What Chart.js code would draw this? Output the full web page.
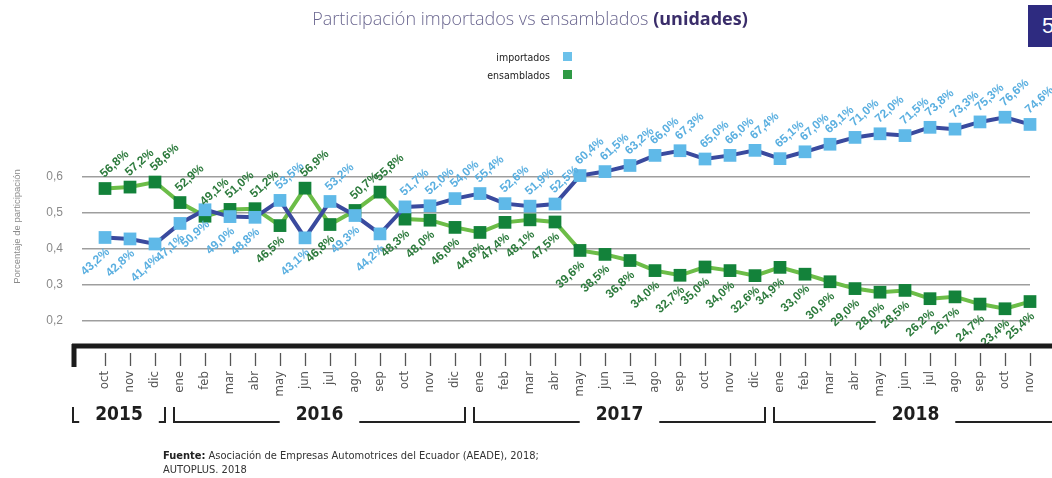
<!DOCTYPE html>
<html>
<head>
<meta charset="utf-8">
<script src="https://cdn.jsdelivr.net/npm/chart.js@4/dist/chart.umd.min.js"></script>
<style>
  html, body { margin: 0; padding: 0; background: #fff; overflow: hidden; }
  body { width: 1052px; height: 478px; position: relative; }
  #chart { position: absolute; left: 0; top: 0; }
  .narrow { font-family: "Liberation Sans Narrow", "DejaVu Sans Condensed", Arial, sans-serif; }
  #title {
    position: absolute; left: 530px; top: 6px; transform: translateX(-50%);
    white-space: nowrap; font-family: "Open Sans", "Liberation Sans", sans-serif;
    font-size: 18px; color: #6b6790; font-weight: 300;
  }
  #title b { color: #3a2d6a; font-weight: 700; }
  .legText { position: absolute; right: 502px; font-size: 10.5px; color: #222; line-height: 14px; }
  .legBox { position: absolute; left: 563px; width: 9px; height: 9px; }
  #page { position: absolute; left: 1028px; top: 5px; width: 40px; height: 42px; background: #2e2b80;
    color: #fff; font: 22px "Liberation Sans", sans-serif; line-height: 42px; padding-left: 14px; box-sizing: border-box; }
  #source { position: absolute; left: 163px; top: 449px; font-size: 11px; color: #333; line-height: 14px; }
  #source b { color: #222; }
</style>
</head>
<body>
<canvas id="chart" width="1052" height="478"></canvas>
<div id="title">Participación importados vs ensamblados <b>(unidades)</b></div>
<div class="legText narrow" style="top:50px">importados</div>
<div class="legBox" style="top:52px;background:#6cc1ea"></div>
<div class="legText narrow" style="top:68px">ensamblados</div>
<div class="legBox" style="top:70px;background:#2f9a45"></div>
<div id="page">5</div>
<div id="source" class="narrow"><b>Fuente:</b> Asociación de Empresas Automotrices del Ecuador (AEADE), 2018;<br>AUTOPLUS. 2018</div>
<script>
// months oct 2015 - nov 2018
var months = ["oct","nov","dic",
	"ene","feb","mar","abr","may","jun","jul","ago","sep","oct","nov","dic",
	"ene","feb","mar","abr","may","jun","jul","ago","sep","oct","nov","dic",
	"ene","feb","mar","abr","may","jun","jul","ago","sep","oct","nov"];
var yearLabels = ["2015", "2016", "2017", "2018"];
var yearMonths = [3, 12, 12, 11];

// participation in %
var importados = [43.2,42.8,41.4,
	47.1,50.9,49.0,48.8,53.5,43.1,53.2,49.3,44.2,51.7,52.0,54.0,
	55.4,52.6,51.9,52.5,60.4,61.5,63.2,66.0,67.3,65.0,66.0,67.4,
	65.1,67.0,69.1,71.0,72.0,71.5,73.8,73.3,75.3,76.6,74.6];
var ensamblados = [56.8,57.2,58.6,
	52.9,49.1,51.0,51.2,46.5,56.9,46.8,50.7,55.8,48.3,48.0,46.0,
	44.6,47.4,48.1,47.5,39.6,38.5,36.8,34.0,32.7,35.0,34.0,32.6,
	34.9,33.0,30.9,29.0,28.0,28.5,26.2,26.7,24.7,23.4,25.4];

var yTicks = [0.2, 0.3, 0.4, 0.5, 0.6];

var NARROW = '"Liberation Sans Narrow", "DejaVu Sans Condensed", Arial, sans-serif';
var LABEL_ANGLE = 42 * Math.PI / 180;

function fmtPct(v){
	return v.toFixed(1).replace(".", ",") + "%";
}

//draws the % values next to each point
var pointLabels = {
	id: "pointLabels",
	afterDatasetsDraw: function(chart){
		var ctx = chart.ctx;
		chart.data.datasets.forEach(function(ds, di){
			var meta = chart.getDatasetMeta(di);
			meta.data.forEach(function(pt, i){
				var above = (di === 0) ? importados[i] > 51 : importados[i] <= 51;
				ctx.save();
				ctx.font = "bold 12px 'Liberation Sans', Arial, sans-serif";
				ctx.fillStyle = ds.labelColor;
				ctx.textBaseline = "middle";
				if(above){
					ctx.translate(pt.x - 3, pt.y - 13);
					ctx.rotate(-LABEL_ANGLE);
					ctx.textAlign = "left";
				}else{
					ctx.translate(pt.x + 3, pt.y + 13);
					ctx.rotate(-LABEL_ANGLE);
					ctx.textAlign = "right";
				}
				ctx.fillText(fmtPct(ds.pct[i]), 0, 0);
				ctx.restore();
			});
		});
	}
};

//thick base line, month dashes and year brackets under the month labels
var timeAxis = {
	id: "timeAxis",
	afterDraw: function(chart){
		var ctx = chart.ctx;
		var xs = chart.scales.x;
		var base = chart.chartArea.bottom - 2;
		ctx.save();
		ctx.strokeStyle = "#1b1b1b";
		ctx.lineWidth = 5;
		ctx.beginPath();
		ctx.moveTo(72, base);
		ctx.lineTo(chart.width, base);
		ctx.moveTo(74, base - 2);
		ctx.lineTo(74, base + 21);
		ctx.stroke();

		//little dash above every month name
		ctx.lineWidth = 1.3;
		ctx.strokeStyle = "#555";
		ctx.beginPath();
		months.forEach(function(m, i){
			var x = Math.round(xs.getPixelForValue(i)) + 0.5;
			ctx.moveTo(x, base + 7);
			ctx.lineTo(x, base + 20);
		});
		ctx.stroke();

		var top = 407, bot = 422, idx = 0;
		ctx.lineWidth = 2;
		ctx.strokeStyle = "#222";
		ctx.fillStyle = "#1e1e1e";
		ctx.font = "bold 19px " + NARROW;
		ctx.textAlign = "center";
		ctx.textBaseline = "middle";
		yearLabels.forEach(function(yr, g){
			var first = idx, last = idx + yearMonths[g] - 1;
			idx += yearMonths[g];
			var x0 = g === 0 ? 73 : xs.getPixelForValue(first) - 6;
			var x1 = g === yearLabels.length - 1 ? chart.width + 5 : xs.getPixelForValue(last) + 10;
			var cx = (x0 + x1) / 2;
			var tw = ctx.measureText(yr).width;
			var gap = 16;
			ctx.beginPath();
			ctx.moveTo(x0, top);
			ctx.lineTo(x0, bot);
			ctx.lineTo(cx - tw / 2 - gap, bot);
			ctx.moveTo(cx + tw / 2 + gap, bot);
			ctx.lineTo(x1, bot);
			ctx.lineTo(x1, top);
			ctx.stroke();
			ctx.fillText(yr, cx, 415);
		});
		ctx.restore();
	}
};

var ctx = document.getElementById("chart");
var myLineChart = new Chart(ctx, {
	type: "line",
	data: {
		labels: months,
		datasets: [
			{
				label: "importados",
				pct: importados,
				data: importados.map(function(v){ return v / 100; }),
				borderColor: "#3a4a9e",
				borderWidth: 4,
				backgroundColor: "#5fb9e8",
				pointStyle: "rect",
				pointRadius: 9,
				pointHoverRadius: 9,
				pointBorderWidth: 0,
				pointBackgroundColor: "#5fb9e8",
				labelColor: "#5aafe0",
				tension: 0
			},
			{
				label: "ensamblados",
				pct: ensamblados,
				data: ensamblados.map(function(v){ return v / 100; }),
				borderColor: "#6cbd48",
				borderWidth: 4,
				backgroundColor: "#13823a",
				pointStyle: "rect",
				pointRadius: 9,
				pointHoverRadius: 9,
				pointBorderWidth: 0,
				pointBackgroundColor: "#13823a",
				labelColor: "#2c7a3c",
				tension: 0
			}
		]
	},
	options: {
		responsive: false,
		animation: false,
		devicePixelRatio: 1,
		layout: { padding: { left: 8, right: 22, top: 105, bottom: 0 } },
		plugins: {
			legend: { display: false },
			title: { display: false },
			tooltip: { enabled: false }
		},
		scales: {
			x: {
				type: "category",
				offset: false,
				grid: { display: false, drawTicks: false },
				border: { display: false },
				ticks: {
					autoSkip: false,
					minRotation: 90,
					maxRotation: 90,
					padding: 23,
					color: "#555",
					font: { family: NARROW, size: 13 }
				},
				afterFit: function(scale){
					scale.height = 130;
					//rotated labels: don't let the tick padding eat into the plot width
					scale.paddingLeft = 0;
					scale.paddingRight = 0;
				}
			},
			y: {
				min: 0.125,
				max: 0.8,
				afterBuildTicks: function(scale){
					scale.ticks = yTicks.map(function(v){ return { value: v }; });
				},
				grid: { color: "#9e9e9e", lineWidth: 1.5, drawTicks: true, tickLength: 23, tickColor: "#9e9e9e" },
				border: { display: false },
				ticks: {
					padding: 19,
					color: "#8a8a8a",
					font: { family: "'Liberation Sans', Arial, sans-serif", size: 12 },
					callback: function(v){ return String(v.toFixed(1)).replace(".", ","); }
				},
				title: {
					display: true,
					text: "Porcentaje de participación",
					color: "#8a8a8a",
					font: { family: "'Liberation Sans', Arial, sans-serif", size: 9.5 }
				},
				afterFit: function(scale){ scale.width = 97; }
			}
		}
	},
	plugins: [pointLabels, timeAxis]
});
</script>
</body>
</html>
